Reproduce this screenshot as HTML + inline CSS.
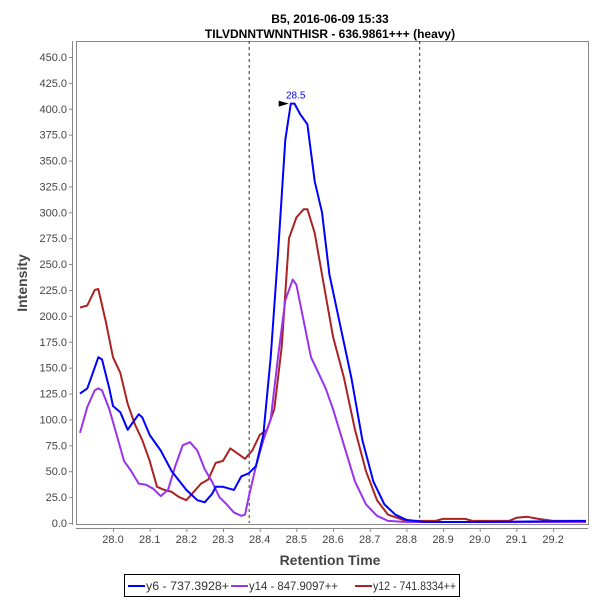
<!DOCTYPE html>
<html><head><meta charset="utf-8"><style>
body{margin:0;background:#fff}
svg{display:block;font-family:"Liberation Sans",sans-serif}
</style></head><body>
<svg width="600" height="600" viewBox="0 0 600 600">
<rect x="0" y="0" width="600" height="600" fill="#fff"/>
<text x="330" y="23" font-size="12" font-weight="bold" text-anchor="middle">B5, 2016-06-09 15:33</text>
<text x="330" y="38" font-size="12" font-weight="bold" text-anchor="middle">TILVDNNTWNNTHISR - 636.9861+++ (heavy)</text>
<g id="plot"></g>
<text x="330" y="565" font-size="14" font-weight="bold" fill="#444" text-anchor="middle">Retention Time</text>
<text transform="translate(27,283) rotate(-90)" font-size="14" font-weight="bold" fill="#444" text-anchor="middle">Intensity</text>
<g>
<rect x="124.5" y="574.5" width="335" height="22" fill="#fff" stroke="#000"/>
<g><line x1="128" y1="586" x2="145" y2="586" stroke="#0000ff" stroke-width="2"/><text x="146" y="590" font-size="12" fill="#333" textLength="83" lengthAdjust="spacingAndGlyphs">y6 - 737.3928+</text></g>
<g><line x1="231" y1="586" x2="248" y2="586" stroke="#9933ee" stroke-width="2"/><text x="249" y="590" font-size="12" fill="#333" textLength="89" lengthAdjust="spacingAndGlyphs">y14 - 847.9097++</text></g>
<g><line x1="355" y1="586" x2="372" y2="586" stroke="#aa2222" stroke-width="2"/><text x="373" y="590" font-size="12" fill="#333" textLength="83" lengthAdjust="spacingAndGlyphs">y12 - 741.8334++</text></g>
</g>
</svg>
<script>
const yTicks=[0,25,50,75,100,125,150,175,200,225,250,275,300,325,350,375,400,425,450];
const xTicks=[28.0,28.1,28.2,28.3,28.4,28.5,28.6,28.7,28.8,28.9,29.0,29.1,29.2];
const markerLines=[28.37,28.835];
const y6T=[27.91,27.93,27.95,27.96,27.97,27.99,28.0,28.02,28.04,28.05,28.07,28.08,28.10,28.13,28.16,28.2,28.23,28.25,28.27,28.28,28.30,28.33,28.35,28.37,28.39,28.41,28.43,28.45,28.47,28.485,28.495,28.51,28.53,28.55,28.57,28.59,28.62,28.65,28.68,28.71,28.74,28.77,28.8,28.85,29.0,29.29];
const y6V=[125,130,150,160,158,130,113,107,90,95,105,102,85,70,50,32,22,20,28,35,35,32,45,48,55,85,160,260,370,405,405,395,385,330,300,240,190,140,80,40,18,8,3,1,1,2];
const y14T=[27.91,27.93,27.95,27.96,27.97,27.99,28.01,28.03,28.05,28.07,28.09,28.11,28.13,28.15,28.17,28.19,28.21,28.23,28.25,28.27,28.29,28.31,28.33,28.35,28.36,28.37,28.39,28.41,28.43,28.45,28.47,28.49,28.50,28.52,28.54,28.56,28.58,28.6,28.63,28.66,28.69,28.72,28.75,28.8,29.29];
const y14V=[87,112,128,130,128,110,85,60,50,38,37,33,26,32,55,75,78,70,52,40,25,18,10,7,8,25,55,80,100,160,215,235,230,195,160,145,130,110,75,40,18,7,2,1,1];
const y12T=[27.91,27.93,27.95,27.96,27.98,28.0,28.02,28.04,28.06,28.08,28.10,28.12,28.14,28.16,28.18,28.20,28.22,28.24,28.26,28.28,28.30,28.32,28.34,28.36,28.38,28.40,28.42,28.44,28.46,28.48,28.50,28.52,28.53,28.55,28.57,28.60,28.63,28.66,28.69,28.72,28.75,28.8,28.88,28.9,28.96,28.98,29.08,29.1,29.13,29.16,29.2,29.27];
const y12V=[208,210,225,226,195,160,145,115,95,80,60,35,32,30,25,22,30,38,42,58,60,72,67,62,70,85,90,110,170,275,295,303,303,280,240,180,140,90,50,22,8,2,2,4,4,2,2,5,6,4,2,2];
const apexLabel=28.5, apexT=28.49, apexV=405;

const L=76,R=588,T=41,B=523;
const xs=t=>113+(t-28.0)*366.7;
const ys=v=>B-v*1.0356;
const NS="http://www.w3.org/2000/svg";
const g=document.getElementById('plot');
function mk(tag,attrs,parent){const e=document.createElementNS(NS,tag);for(const k in attrs)e.setAttribute(k,attrs[k]);(parent||g).appendChild(e);return e;}

const frame=mk('rect',{x:L+0.5,y:T+0.5,width:R-L,height:B-T+1,fill:'#fff',stroke:'#888'});



const ya=mk('g',{});


mk('line',{x1:72.5,y1:T,x2:72.5,y2:B+2,stroke:'#888'},ya);
yTicks.forEach(v=>{
  mk('line',{x1:69,x2:72,y1:ys(v)+0.5,y2:ys(v)+0.5,stroke:'#888'},ya);
  const t=mk('text',{x:67,y:ys(v)+4,'font-size':11,fill:'#444','text-anchor':'end'},ya);
  t.textContent=v.toFixed(1);
  
  
});
const xa=mk('g',{});


mk('line',{x1:L,y1:528.5,x2:R,y2:528.5,stroke:'#888'},xa);
xTicks.forEach(v=>{
  mk('line',{x1:xs(v)+0.5,x2:xs(v)+0.5,y1:528,y2:532,stroke:'#888'},xa);
  const t=mk('text',{x:xs(v),y:543,'font-size':11,fill:'#444','text-anchor':'middle'},xa);
  t.textContent=v.toFixed(1);
  
  
});
markerLines.forEach(v=>{
  const l=mk('line',{x1:xs(v)+0.5,x2:xs(v)+0.5,y1:T,y2:B,stroke:'#333','stroke-dasharray':'3,3'});
  
  
});
function series(T_,V,color,name){
  const p=mk('polyline',{points:T_.map((t,i)=>xs(t).toFixed(1)+','+ys(V[i]).toFixed(1)).join(' '),fill:'none',stroke:color,'stroke-width':2,'stroke-linejoin':'round'});
  
  
}
series(y12T,y12V,'#aa2222','series-y12');
series(y14T,y14V,'#9933ee','series-y14');
series(y6T,y6V,'#0000ff','series-y6');
const ax=xs(apexT),ay=ys(apexV);
const arr=mk('polygon',{points:`${ax-14},${ay-3} ${ax-4},${ay} ${ax-14},${ay+3}`,fill:'#000'});


const lab=mk('text',{x:ax+3,y:ay-5,'font-size':10,fill:'#0000ff','text-anchor':'middle'});
lab.textContent=apexLabel.toFixed(1);


</script>
</body></html>
